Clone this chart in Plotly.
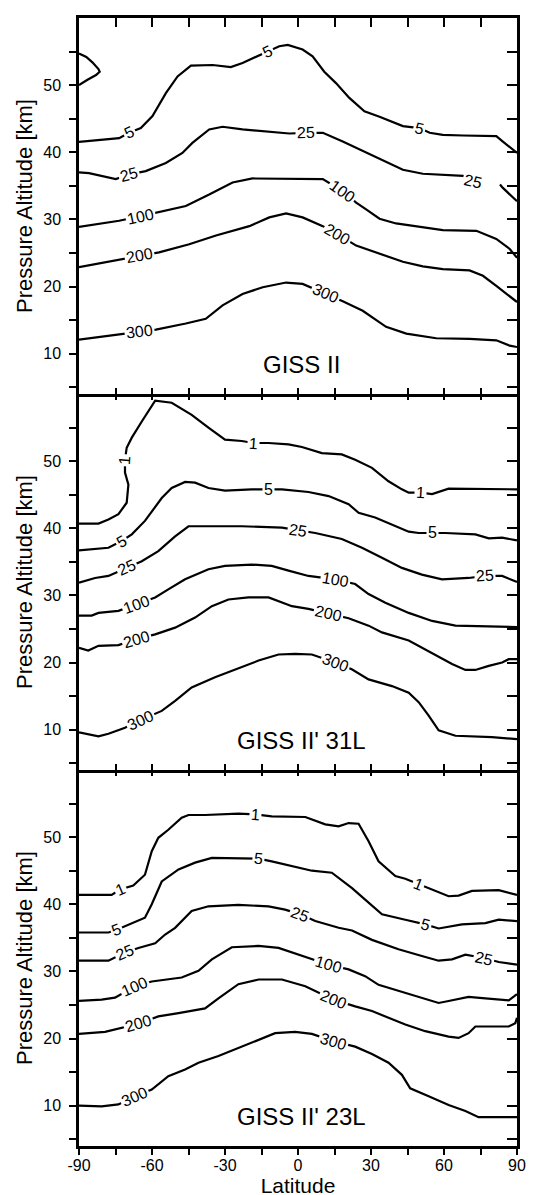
import math
import plotly.graph_objects as go

# ---------------- DATA ----------------
# Panel 1: GISS II
p1_lobe5_lat = [-90, -87, -84.5, -82, -81.5, -83, -86.5, -90]
p1_lobe5_alt = [54.7, 54.2, 53.4, 52.4, 52.0, 51.5, 50.8, 50.0]

p1_c5_lat = [-90, -73.5, -69.4, -64.6, -59.8, -54.3, -49.5, -44.0, -35.1, -27.6, -22.8, -16.6, -12.5, -7.7, -4.2,
             1.9, 6.0, 10.8, 15.6, 21.1, 27.3, 33.5, 43.1, 49.9, 54.1, 59.5, 67.8, 81.5, 84.2, 90]
p1_c5_alt = [41.55, 42.1, 42.9, 43.6, 45.4, 48.8, 51.3, 52.9, 53.0, 52.7, 53.3, 54.3, 55.0, 55.8, 56.0,
             55.3, 54.3, 52.0, 50.3, 48.1, 46.1, 45.3, 43.9, 43.6, 42.9, 42.6, 42.5, 42.4, 41.6, 39.9]

p1_c25_lat = [-90, -85.9, -74.9, -69.4, -62.6, -54.3, -47.5, -43.4, -36.5, -31.0, -22.8, -11.8, -3.6, 3.3, 10.2,
              18.4, 26.6, 34.9, 43.1, 51.3, 59.5, 67.8, 72.0, None, 83.0, 84.2, 90]
p1_c25_alt = [37.0, 36.9, 36.0, 36.7, 37.2, 38.4, 39.9, 41.4, 43.4, 43.8, 43.4, 43.0, 42.8, 42.9, 42.9,
              41.6, 40.2, 38.9, 37.4, 36.8, 36.7, 36.5, 35.6, None, 35.2, 34.7, 32.7]

p1_c100_lat = [-90, -73.5, -64.6, -58.4, -46.1, -36.5, -26.9, -18.7, -2.2, 10.2, 18.4, 23.9, 28.0, 33.5, 40.3,
               51.3, 59.5, 73.3, 81.5, 87.0, 90]
p1_c100_alt = [28.9, 29.8, 30.5, 31.0, 32.0, 33.7, 35.5, 36.1, 36.0, 36.0, 34.2, 32.5, 31.5, 30.1, 29.4,
               28.8, 28.4, 28.3, 27.1, 25.6, 24.3]

p1_c200_lat = [-90, -72.2, -65.3, -57.1, -44.7, -33.7, -20.0, -11.8, -4.9, 1.9, 10.2, 16.3, 23.9, 32.1, 43.1,
               51.3, 59.5, 70.5, 76.0, 81.5, 90]
p1_c200_alt = [22.9, 24.1, 24.6, 25.1, 26.3, 27.6, 29.0, 30.3, 30.9, 30.3, 29.0, 27.8, 26.1, 25.1, 23.7,
               23.0, 22.6, 22.4, 21.6, 20.1, 17.7]

p1_c300_lat = [-90, -72.2, -65.3, -58.4, -46.1, -37.9, -31.0, -22.8, -14.5, -4.9, 1.9, 11.5, 18.4, 26.6, 30.7,
               36.2, 44.5, 56.8, 70.5, 81.5, 87.0, 90]
p1_c300_alt = [12.1, 13.0, 13.3, 13.6, 14.5, 15.2, 17.2, 18.9, 19.9, 20.6, 20.4, 18.9, 17.8, 16.4, 15.4,
               14.0, 13.0, 12.3, 12.2, 12.0, 11.2, 11.0]

p1_label_text = ["5", "5", "5", "25", "25", "25", "100", "100", "200", "200", "300", "300"]
p1_label_lat = [-69.4, -12.5, 49.9, -69.4, 3.3, 72.0, -64.6, 18.4, -65.3, 16.3, -65.3, 11.5]
p1_label_alt = [42.9, 55.0, 43.6, 36.7, 42.9, 35.6, 30.5, 34.2, 24.6, 27.8, 13.3, 18.9]

# Panel 2: GISS II' 31L
p2_c1_lat = [-90, -82.0, -77.9, -73.8, -70.4, -69.7, -71.1, -71.1, -70.4, -68.3, -64.2, -58.7, -51.9, -43.7,
             -36.8, -30.0, -23.1, -18.3, -12.1, -3.9, 1.6, 9.8, 18.0, 23.5, 30.4, 37.2, 42.7, 45.5, 50.3,
             55.1, 61.9, 72.9, 90]
p2_c1_alt = [40.7, 40.7, 41.3, 42.1, 43.8, 46.5, 48.3, 50.2, 52.0, 53.5, 55.9, 59.0, 58.7, 56.9,
             55.0, 53.2, 53.0, 52.7, 52.7, 52.5, 52.1, 51.2, 51.0, 50.2, 49.0, 47.0, 45.8, 45.3, 45.3,
             45.1, 45.9, 45.9, 45.8]

p2_c5_lat = [-90, -77.9, -72.5, -68.3, -62.9, -56.0, -51.9, -46.4, -42.3, -36.8, -30.0, -19.0, -12.1, -6.6,
             4.3, 12.6, 20.8, 24.9, 31.7, 38.6, 45.5, 49.6, 55.1, 60.5, 72.9, 78.4, 83.9, 90]
p2_c5_alt = [36.7, 37.1, 38.1, 39.1, 41.1, 44.5, 46.0, 46.9, 46.8, 46.0, 45.6, 45.8, 45.8, 45.8,
             45.4, 44.8, 43.6, 42.3, 41.6, 40.5, 39.5, 39.3, 39.3, 39.3, 39.1, 38.5, 38.6, 38.2]

p2_c25_lat = [-90, -83.4, -77.9, -70.4, -64.2, -57.4, -50.5, -45.0, -36.8, -23.1, -6.6, 0.2, 7.1, 18.0,
              26.3, 34.5, 42.7, 50.9, 59.2, 70.1, 77.0, 83.9, 90]
p2_c25_alt = [31.9, 32.6, 32.9, 34.1, 35.1, 36.6, 38.8, 40.3, 40.3, 40.3, 40.1, 39.7, 39.3, 38.4,
              37.1, 35.6, 34.1, 33.1, 32.4, 32.6, 32.9, 32.9, 32.0]

p2_c100_lat = [-90, -84.8, -82.0, -73.8, -66.3, -58.7, -53.3, -46.4, -36.8, -30.0, -19.0, -10.8, -3.9, 4.3,
               15.3, 23.5, 29.0, 35.9, 45.5, 55.1, 64.7, 72.9, 90]
p2_c100_alt = [27.0, 27.0, 27.4, 27.7, 28.7, 29.7, 30.9, 32.4, 33.9, 34.4, 34.6, 34.4, 33.7, 32.9,
               32.4, 31.7, 30.2, 28.9, 27.4, 26.2, 25.5, 25.4, 25.3]

p2_c200_lat = [-90, -86.2, -82.0, -73.8, -66.3, -58.7, -50.5, -42.3, -35.4, -28.6, -20.4, -12.1, -2.5, 4.3,
               12.6, 20.8, 29.0, 34.5, 45.5, 53.7, 63.3, 68.8, 72.9, 78.4, 83.9, 86.6, 90]
p2_c200_alt = [22.2, 21.8, 22.5, 22.6, 23.5, 24.2, 25.2, 26.7, 28.4, 29.4, 29.7, 29.7, 28.4, 28.0,
               27.3, 26.6, 25.5, 24.5, 23.3, 21.7, 19.8, 18.9, 18.9, 19.5, 20.0, 20.5, 20.5]

p2_c300_lat = [-90, -82.0, -77.9, -71.1, -64.9, -56.0, -50.5, -43.7, -34.1, -25.9, -16.2, -8.0, -1.2, 5.7,
               15.3, 22.1, 29.0, 38.6, 45.5, 49.6, 53.7, 57.8, 64.7, 79.7, 90]
p2_c300_alt = [9.6, 9.0, 9.4, 10.3, 11.4, 12.8, 14.3, 16.3, 17.8, 19.0, 20.3, 21.2, 21.3, 21.2,
               20.0, 19.0, 17.5, 16.5, 15.5, 14.1, 12.1, 9.9, 9.1, 8.9, 8.6]

p2_label_text = ["1", "1", "1", "5", "5", "5", "25", "25", "25", "100", "100", "200", "200", "300", "300"]
p2_label_lat = [-71.1, -18.3, 50.3, -72.5, -12.1, 55.1, -70.4, 0.2, 77.0, -66.3, 15.3, -66.3, 12.6, -64.9, 15.3]
p2_label_alt = [50.2, 52.7, 45.3, 38.1, 45.8, 39.3, 34.1, 39.7, 32.9, 28.7, 32.4, 23.5, 27.3, 11.4, 20.0]

# Panel 3: GISS II' 23L
p3_c1_lat = [-90, -76.6, -73.1, -67.7, -62.9, -60.1, -57.4, -53.3, -47.8, -45.0, -38.2, -24.5, -17.6, -10.8,
             3.0, 11.2, 16.7, 20.8, 24.9, 29.0, 33.1, 40.0, 44.1, 49.6, 55.1, 61.9, 66.0, 71.5, 82.5, 90]
p3_c1_alt = [41.4, 41.4, 42.2, 42.8, 44.4, 47.9, 49.9, 51.1, 52.9, 53.3, 53.3, 53.5, 53.4, 53.1,
             53.0, 51.9, 51.6, 52.1, 52.0, 49.4, 46.4, 44.2, 43.8, 43.0, 42.2, 41.2, 41.3, 42.0, 42.1, 41.4]

p3_c5_lat = [-90, -77.9, -74.5, -68.3, -62.9, -60.1, -56.0, -49.1, -42.3, -35.4, -24.5, -16.2, -10.8, -2.5,
             5.7, 13.9, 22.2, 27.6, 34.5, 44.1, 52.3, 57.8, 67.4, 77.0, 82.5, 90]
p3_c5_alt = [35.8, 35.8, 36.2, 37.2, 38.0, 40.0, 43.4, 45.2, 46.2, 46.9, 46.9, 46.8, 46.4, 45.7,
             45.0, 44.7, 42.4, 40.7, 38.5, 37.7, 37.0, 36.4, 37.0, 37.2, 37.7, 37.5]

p3_c25_lat = [-90, -77.9, -71.1, -65.6, -58.7, -54.6, -50.5, -43.7, -36.8, -24.5, -12.1, -5.3, 0.9, 7.1,
              16.7, 22.2, 30.4, 41.3, 50.9, 57.8, 63.3, 68.8, 76.3, 82.5, 90]
p3_c25_alt = [31.6, 31.6, 32.8, 33.5, 34.2, 35.5, 36.5, 39.0, 39.7, 39.9, 39.7, 39.2, 38.5, 37.5,
              36.5, 36.1, 34.7, 33.3, 32.3, 31.6, 31.8, 32.5, 32.0, 31.4, 31.0]

p3_c100_lat = [-90, -80.7, -75.2, -67.0, -60.1, -47.8, -40.9, -35.4, -27.2, -16.2, -8.0, 0.2, 12.6, 20.8,
               27.6, 33.1, 38.6, 46.8, 52.3, 57.8, 61.9, 70.1, 77.0, 86.6, 90]
p3_c100_alt = [25.6, 25.8, 26.1, 27.8, 28.5, 29.1, 30.1, 31.8, 33.6, 33.8, 33.5, 32.5, 31.0, 30.3,
               29.3, 28.0, 27.4, 26.5, 25.8, 25.3, 25.6, 26.2, 26.0, 25.7, 26.6]

p3_c200_lat = [-90, -79.3, -65.6, -57.4, -49.1, -38.2, -32.7, -24.5, -16.2, -6.6, 3.0, 14.6, 23.5, 30.4,
               37.2, 44.1, 52.3, 61.9, 66.0, 70.1, 72.9, 79.7, 86.6, 89.3, 90]
p3_c200_alt = [20.7, 21.0, 22.2, 23.3, 23.8, 24.5, 26.0, 28.1, 28.8, 28.8, 27.8, 25.8, 24.8, 24.1,
               23.1, 22.1, 21.1, 20.3, 20.1, 20.8, 21.8, 21.8, 21.8, 22.3, 23.1]

p3_c300_lat = [-90, -80.7, -73.8, -67.0, -60.1, -53.3, -46.4, -40.9, -32.7, -24.5, -14.9, -9.4, -1.2, 5.7,
               14.6, 23.5, 30.4, 37.2, 42.7, 46.1, 53.7, 61.9, 68.8, 74.2, 90]
p3_c300_alt = [10.0, 9.9, 10.2, 11.4, 12.4, 14.4, 15.4, 16.4, 17.4, 18.6, 20.1, 20.8, 21.0, 20.7,
               19.6, 18.8, 17.7, 16.4, 14.6, 12.6, 11.4, 10.1, 9.2, 8.3, 8.3]

p3_label_text = ["1", "1", "1", "5", "5", "5", "25", "25", "25", "100", "100", "200", "200", "300", "300"]
p3_label_lat = [-73.1, -17.6, 49.6, -74.5, -16.2, 52.3, -71.1, 0.9, 76.3, -67.0, 12.6, -65.6, 14.6, -67.0, 14.6]
p3_label_alt = [42.2, 53.4, 43.0, 36.2, 46.8, 37.0, 32.8, 38.5, 32.0, 27.8, 31.0, 22.2, 25.8, 11.4, 19.6]

panel_titles = ["GISS II", "GISS II' 31L", "GISS II' 23L"]
y_tick_vals = [10, 20, 30, 40, 50]
x_tick_vals = [-90, -60, -30, 0, 30, 60, 90]

# ---------------- FIGURE ----------------
FONT = "Liberation Sans, Arial, sans-serif"
W, H = 540, 1195
ML, MR, MT, MB = 71, 31, 10, 57
YR = [4, 60]
plot_w = W - ML - MR
plot_h = (H - MT - MB) / 3.0
px_lat = plot_w / 180.0
px_km = plot_h / (YR[1] - YR[0])

panels = [
    dict(lines=[(p1_lobe5_lat, p1_lobe5_alt), (p1_c5_lat, p1_c5_alt), (p1_c25_lat, p1_c25_alt),
                (p1_c100_lat, p1_c100_alt), (p1_c200_lat, p1_c200_alt), (p1_c300_lat, p1_c300_alt)],
         labels=(p1_label_text, p1_label_lat, p1_label_alt)),
    dict(lines=[(p2_c1_lat, p2_c1_alt), (p2_c5_lat, p2_c5_alt), (p2_c25_lat, p2_c25_alt),
                (p2_c100_lat, p2_c100_alt), (p2_c200_lat, p2_c200_alt), (p2_c300_lat, p2_c300_alt)],
         labels=(p2_label_text, p2_label_lat, p2_label_alt)),
    dict(lines=[(p3_c1_lat, p3_c1_alt), (p3_c5_lat, p3_c5_alt), (p3_c25_lat, p3_c25_alt),
                (p3_c100_lat, p3_c100_alt), (p3_c200_lat, p3_c200_alt), (p3_c300_lat, p3_c300_alt)],
         labels=(p3_label_text, p3_label_lat, p3_label_alt)),
]

fig = go.Figure()
annotations = []


def label_angle(lines, lat, alt):
    best = None
    for lx, ly in lines:
        pts = [(a, b) for a, b in zip(lx, ly) if a is not None]
        for i, (a, b) in enumerate(pts):
            d = ((a - lat) * px_lat) ** 2 + ((b - alt) * px_km) ** 2
            if best is None or d < best[0]:
                best = (d, pts, i)
    _, pts, i = best
    p0 = pts[max(i - 1, 0)]
    p1 = pts[min(i + 1, len(pts) - 1)]
    dx = (p1[0] - p0[0]) * px_lat
    dy = (p1[1] - p0[1]) * px_km
    ang = -math.degrees(math.atan2(dy, dx))
    if ang > 90:
        ang -= 180
    if ang < -90:
        ang += 180
    return ang


for k, pan in enumerate(panels):
    xs = "x" if k == 0 else f"x{k + 1}"
    ys = "y" if k == 0 else f"y{k + 1}"
    for lx, ly in pan["lines"]:
        fig.add_trace(go.Scatter(x=lx, y=ly, mode="lines", xaxis=xs, yaxis=ys,
                                 line=dict(color="black", width=2.2), showlegend=False,
                                 hoverinfo="skip", connectgaps=False))
    txt, llat, lalt = pan["labels"]
    for t, a, b in zip(txt, llat, lalt):
        annotations.append(dict(x=a, y=b, xref=xs, yref=ys, text=t, showarrow=False,
                                textangle=label_angle(pan["lines"], a, b),
                                font=dict(family=FONT, size=16, color="black"),
                                bgcolor="white", borderpad=1))
    annotations.append(dict(x=1.5, y=8.4, xref=xs, yref=ys, text=panel_titles[k], showarrow=False,
                            font=dict(family=FONT, size=24, color="black")))

layout = dict(
    width=W, height=H, margin=dict(l=ML, r=MR, t=MT, b=MB),
    paper_bgcolor="white", plot_bgcolor="white",
    font=dict(family=FONT, color="black", size=16),
    annotations=annotations, showlegend=False,
)

doms = [[2 / 3, 1.0], [1 / 3, 2 / 3], [0.0, 1 / 3]]
for k in range(3):
    n = k + 1
    xk = "xaxis" if k == 0 else f"xaxis{n}"
    yk = "yaxis" if k == 0 else f"yaxis{n}"
    xid = "x" if k == 0 else f"x{n}"
    yid = "y" if k == 0 else f"y{n}"
    bottom = (k == 2)
    layout[xk] = dict(
        domain=[0, 1], anchor=yid, range=[-90, 90], showgrid=False, zeroline=False,
        showline=True, linecolor="black", linewidth=2.5,
        tickmode="array", tickvals=x_tick_vals, ticktext=[str(v) for v in x_tick_vals],
        ticks="outside" if bottom else "inside", ticklen=6, tickwidth=2, tickcolor="black",
        showticklabels=bottom, tickfont=dict(family=FONT, size=16),
        ticklabelstandoff=-3 if bottom else 0,
        minor=dict(tickvals=[-75, -45, -15, 15, 45, 75], ticks="outside" if bottom else "inside",
                   ticklen=6, tickwidth=2, tickcolor="black"),
        title=dict(text="Latitude", font=dict(family=FONT, size=21), standoff=0) if bottom else None,
    )
    layout[yk] = dict(
        domain=doms[k], anchor=xid, range=YR, showgrid=False, zeroline=False,
        showline=True, linecolor="black", linewidth=2.5,
        tickmode="array", tickvals=y_tick_vals, ticktext=[str(v) for v in y_tick_vals],
        ticks="outside", ticklen=7, tickwidth=2, tickcolor="black",
        tickfont=dict(family=FONT, size=16), ticklabelstandoff=5,
        minor=dict(tickvals=[5, 15, 25, 35, 45, 55], ticks="outside", ticklen=7,
                   tickwidth=2, tickcolor="black"),
        title=dict(text="Pressure Altitude [km]", font=dict(family=FONT, size=22), standoff=5),
    )
    # overlay axes: top and right borders with inward ticks
    xo = f"xaxis{n + 3}"
    yo = f"yaxis{n + 3}"
    layout[xo] = dict(
        overlaying=xid, anchor=yid, side="top", range=[-90, 90], showgrid=False, zeroline=False,
        showline=(k == 0), linecolor="black", linewidth=2.5,
        tickmode="array", tickvals=[-75, -60, -45, -30, -15, 0, 15, 30, 45, 60, 75],
        ticks="inside", ticklen=9 if k == 0 else 6, tickwidth=2, tickcolor="black",
        showticklabels=False,
    )
    layout[yo] = dict(
        overlaying=yid, anchor=xid, side="right", range=YR, showgrid=False, zeroline=False,
        showline=True, linecolor="black", linewidth=2.5,
        tickmode="array", tickvals=[5, 10, 15, 20, 25, 30, 35, 40, 45, 50, 55],
        ticks="inside", ticklen=10, tickwidth=2, tickcolor="black",
        showticklabels=False,
    )
    fig.add_trace(go.Scatter(x=[None], y=[None], xaxis=f"x{n + 3}", yaxis=f"y{n + 3}",
                             mode="lines", showlegend=False, hoverinfo="skip"))

fig.update_layout(**layout)
fig.write_html("out.html")
